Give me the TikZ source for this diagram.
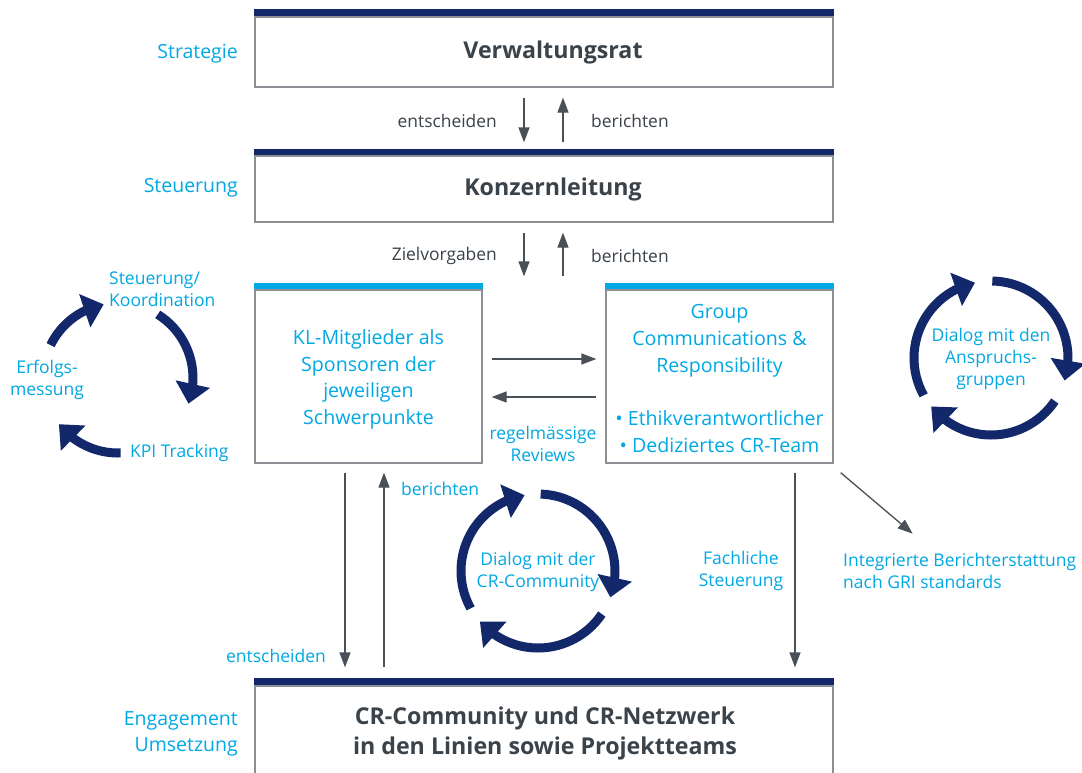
\documentclass[tikz,border=0pt]{standalone}
\usepackage{fontspec}
\setmainfont{Open Sans}
\usetikzlibrary{arrows.meta,bending,positioning}

\definecolor{nachtblau}{HTML}{13286A}
\definecolor{hellblau}{HTML}{00A8E4}
\definecolor{schrift}{HTML}{3A424A}
\definecolor{pfeilgrau}{HTML}{4A5057}
\definecolor{rahmen}{HTML}{8C9094}

\tikzset{
  ebene/.style={draw=rahmen, line width=1.3pt, minimum width=578pt, inner sep=0pt},
  titel/.style={text=schrift, align=center, inner sep=0pt,
    font=\bfseries\fontsize{23.2}{30}\selectfont},
  feld/.style={draw=rahmen, line width=1.3pt, minimum width=227pt, minimum height=173pt,
    inner sep=0pt},
  feldtext/.style={text=hellblau, align=center, inner sep=0pt,
    font=\fontsize{19.6}{26.7}\selectfont},
  pfeil/.style={draw=pfeilgrau, line width=1.3pt, -{Triangle[length=15pt,width=11pt]}},
  kreis/.style={draw=nachtblau, line width=9pt, -{Triangle[length=20pt,width=34pt]}},
  grau/.style={text=schrift, inner sep=0pt, font=\fontsize{17.4}{21}\selectfont},
  blau/.style={text=hellblau, inner sep=0pt, align=center, font=\fontsize{17.5}{22}\selectfont},
  ebenentitel/.style={text=hellblau, inner sep=0pt, align=right, anchor=east,
    font=\fontsize{19.5}{26}\selectfont},
}

\begin{document}
\begin{tikzpicture}[x=1pt, y=-1pt]
\clip (0,0) rectangle (1082,772);
\fill[white] (0,0) rectangle (1082,772);

% ebenen
\node[ebene, minimum height=70pt, label={[titel, xshift=9pt]center:Verwaltungsrat}] (vr) at (544,52) {};
\node[ebene, minimum height=66pt, label={[titel, xshift=9pt]center:Konzernleitung}] (kl) at (544,189) {};
\node[ebene, minimum height=90pt,
  label={[titel, xshift=1pt, yshift=-2pt]center:{CR-Community und CR-Netzwerk\\in den Linien sowie Projektteams}}] (cr) at (544,731) {};
\fill[nachtblau] (vr.north west) rectangle ([yshift=7pt]vr.north east);
\fill[nachtblau] (kl.north west) rectangle ([yshift=6pt]kl.north east);
\fill[nachtblau] (cr.north west) rectangle ([yshift=7pt]cr.north east);

% mittlere felder
\node[feld, label={[feldtext, yshift=-3pt]center:{KL-Mitglieder als\\Sponsoren der\\jeweiligen\\Schwerpunkte}}] (km) at (368.5,376.5) {};
\node[feld, label={[feldtext, yshift=-2pt]center:{Group\\Communications \&\\Responsibility\\[26.7pt]
  \textbullet{} Ethikverantwortlicher\\\textbullet{} Dediziertes CR-Team}}] (gc) at (719.5,376.5) {};
\fill[hellblau] (km.north west) rectangle ([yshift=6pt]km.north east);
\fill[hellblau] (gc.north west) rectangle ([yshift=6pt]gc.north east);

% ebenen links
\node[ebenentitel] (strat) at (238,54) {Strategie};
\node[ebenentitel] (steu) at (238,188) {Steuerung};
\node[ebenentitel] (umsetz) at (238,734) {Engagement\\Umsetzung};

% pfeile oben
\draw[pfeil, shorten <=10pt, shorten >=13pt] ([xshift=-20pt]vr.south) -- ([xshift=-20pt]vr.south |- kl.north);
\draw[pfeil, shorten <=13pt, shorten >=10pt] ([xshift=19pt]vr.south |- kl.north) -- ([xshift=19pt]vr.south);
\node[grau, anchor=east] (ents1) at (497,121) {entscheiden};
\node[grau, anchor=west] (ber1) at (591,121) {berichten};

\draw[pfeil, shorten <=10pt, shorten >=13pt] ([xshift=-20pt]kl.south) -- ([xshift=-20pt]kl.south |- km.north);
\draw[pfeil, shorten <=13pt, shorten >=10pt] ([xshift=19pt]kl.south |- km.north) -- ([xshift=19pt]kl.south);
\node[grau, anchor=east] (ziel) at (497,256) {Zielvorgaben};
\node[grau, anchor=west] (ber2) at (591,256) {berichten};

% zwischen den feldern
\draw[pfeil, shorten <=9pt, shorten >=9pt] ([yshift=17.5pt]km.east) -- ([yshift=17.5pt]km.east -| gc.west);
\draw[pfeil, shorten <=9pt, shorten >=9pt] ([yshift=-20.5pt]km.east -| gc.west) -- ([yshift=-20.5pt]km.east);
\node[blau] (rev) at (543,444) {regelmässige\\Reviews};

% pfeile unten
\draw[pfeil, shorten <=9pt, shorten >=18pt] ([xshift=-23.5pt]km.south) -- ([xshift=-23.5pt]km.south |- cr.north);
\draw[pfeil, shorten <=18pt, shorten >=9pt] ([xshift=15.5pt]km.south |- cr.north) -- ([xshift=15.5pt]km.south);
\draw[pfeil, shorten <=9pt, shorten >=18pt] ([xshift=75.5pt]gc.south) -- ([xshift=75.5pt]gc.south |- cr.north);
\draw[pfeil] ([shift={(7,9)}]gc.south east) -- ++(72,61);
\node[blau, anchor=west] (ber3) at (401,489) {berichten};
\node[blau, anchor=east] (ents2) at (326,656) {entscheiden};
\node[blau] (fach) at (741,571) {Fachliche\\Steuerung};
\node[blau, anchor=west, align=left] (gri) at (843,571) {Integrierte Berichterstattung\\nach GRI standards};

% kreislaeufe
\coordinate (zl) at (118,378);
\coordinate (zm) at (538,571);
\coordinate (zr) at (991,358);
\foreach \a/\b in {154/101, 58/-20, -88/-142}
  \draw[kreis] ([shift={(-\a:75)}]zl) arc[start angle=-\a, end angle=-\b, radius=75];
\foreach \a/\b in {209/100, 88/-20, -34/-139}
  \draw[kreis] ([shift={(-\a:77)}]zm) arc[start angle=-\a, end angle=-\b, radius=77];
\foreach \a/\b in {209/102, 89/-17, -34/-141}
  \draw[kreis] ([shift={(-\a:77)}]zr) arc[start angle=-\a, end angle=-\b, radius=77];

\node[blau, anchor=west, align=left] (koord) at (109,289) {Steuerung/\\Koordination};
\node[blau] (erf) at (47,380) {Erfolgs-\\messung};
\node[blau, anchor=west] (kpi) at (130,453) {KPI Tracking};
\node[blau] (dcr) at (538,572) {Dialog mit der\\CR-Community};
\node[blau] (dan) at (991,359) {Dialog mit den\\Anspruchs-\\gruppen};
\end{tikzpicture}
\end{document}
